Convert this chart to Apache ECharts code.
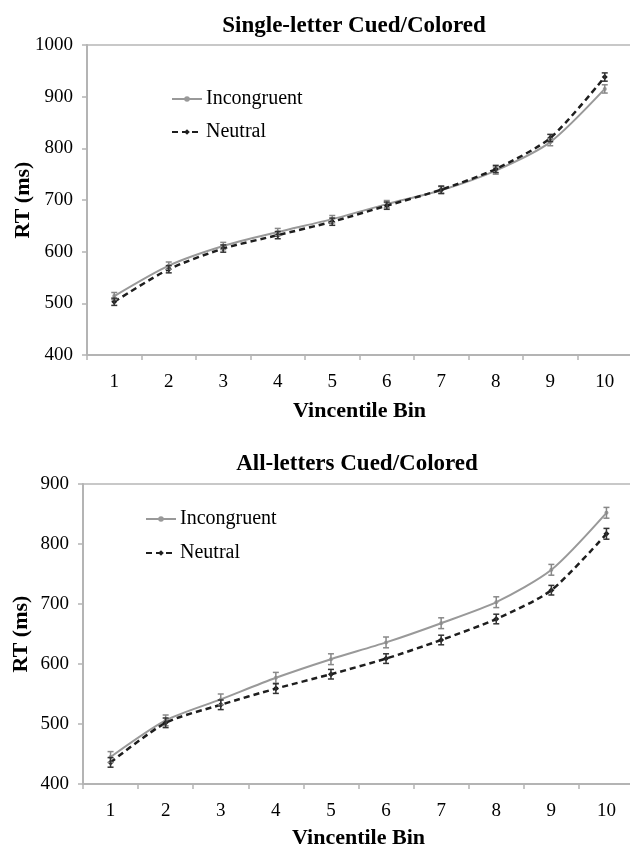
<!DOCTYPE html>
<html>
<head>
<meta charset="utf-8">
<script src="https://cdn.jsdelivr.net/npm/echarts@6/dist/echarts.min.js"></script>
<style>
  html, body { margin: 0; padding: 0; background: #fff; }
  #main { width: 630px; height: 846px; }
</style>
</head>
<body>
<div id="main"></div>
<script>
// vincentile bins
var bins = ["1", "2", "3", "4", "5", "6", "7", "8", "9", "10"];

// Single-letter Cued/Colored
var singleIncong = [514, 573, 611, 638, 663, 692, 719, 757, 812, 915];
var singleNeutral = [503, 566, 606, 632, 658, 689, 720, 760, 820, 938];
var singleIncongErr = [7, 7, 7, 7, 7, 7, 7, 7, 7, 8];
var singleNeutralErr = [7, 7, 7, 7, 7, 7, 7, 7, 7, 8];

// All-letters Cued/Colored
var allIncong = [445, 506, 541, 577, 608, 636, 668, 703, 757, 852];
var allNeutral = [436, 502, 532, 559, 583, 609, 640, 675, 723, 817];
var allIncongErr = [9, 9, 9, 9, 9, 9, 9, 9, 9, 9];
var allNeutralErr = [8, 8, 8, 8, 8, 8, 8, 8, 8, 9];

var serif = "Liberation Serif";
var axisGrey = "#b4b4b4";

function errData(vals, errs) {
  return vals.map(function (v, i) { return [i, v - errs[i], v + errs[i]]; });
}

// vertical error bar with small caps
function errorBar(color) {
  return function (params, api) {
    var lo = api.coord([api.value(0), api.value(1)]);
    var hi = api.coord([api.value(0), api.value(2)]);
    var w = 3;
    var style = { stroke: color, lineWidth: 1.5 };
    return {
      type: "group",
      children: [
        { type: "line", shape: { x1: lo[0], y1: lo[1], x2: hi[0], y2: hi[1] }, style: style },
        { type: "line", shape: { x1: lo[0] - w, y1: lo[1], x2: lo[0] + w, y2: lo[1] }, style: style },
        { type: "line", shape: { x1: hi[0] - w, y1: hi[1], x2: hi[0] + w, y2: hi[1] }, style: style }
      ]
    };
  };
}

function xAxisOpt(idx, gap) {
  return {
    type: "category",
    gridIndex: idx,
    data: bins,
    boundaryGap: true,
    name: "Vincentile Bin",
    nameLocation: "middle",
    nameGap: gap,
    nameTextStyle: { fontFamily: serif, fontWeight: "bold", fontSize: 22, color: "#000" },
    axisLine: { lineStyle: { color: axisGrey, width: 2 } },
    axisTick: { show: true, length: 5, lineStyle: { color: axisGrey, width: 1.5 } },
    axisLabel: { fontFamily: serif, fontSize: 19, color: "#000", margin: 18 },
    splitLine: { show: false }
  };
}

function yAxisOpt(idx, max, gap) {
  return {
    type: "value",
    gridIndex: idx,
    min: 400,
    max: max,
    interval: 100,
    name: "RT (ms)",
    nameLocation: "middle",
    nameRotate: 90,
    nameGap: gap,
    nameMoveOverlap: false,
    nameTextStyle: { fontFamily: serif, fontWeight: "bold", fontSize: 22, color: "#000" },
    axisLine: { show: true, lineStyle: { color: axisGrey, width: 2 } },
    axisTick: { show: true, length: 5, lineStyle: { color: axisGrey, width: 1.5 } },
    axisLabel: {
      fontFamily: serif, fontSize: 19, color: "#000", margin: 14,
      formatter: function (v) { return String(v); }
    },
    splitLine: { show: false }
  };
}

function lineSeries(name, idx, data, dashed) {
  return {
    name: name,
    type: "line",
    xAxisIndex: idx,
    yAxisIndex: idx,
    data: data,
    smooth: 0.25,
    symbol: dashed ? "diamond" : "circle",
    symbolSize: dashed ? 6 : 4,
    itemStyle: { color: dashed ? "#1e1e1e" : "#999999" },
    lineStyle: {
      color: dashed ? "#1e1e1e" : "#999999",
      width: dashed ? 2.5 : 2,
      type: dashed ? [6, 4] : "solid"
    },
    z: dashed ? 4 : 3
  };
}

function errSeries(idx, vals, errs, color) {
  return {
    type: "custom",
    xAxisIndex: idx,
    yAxisIndex: idx,
    data: errData(vals, errs),
    renderItem: errorBar(color),
    silent: true,
    z: 5
  };
}

function legendOpt(left, top, gap) {
  return {
    orient: "vertical", left: left, top: top, itemGap: gap, padding: 0,
    itemWidth: 30, itemHeight: 7,
    textStyle: { fontFamily: serif, fontSize: 20, color: "#000", padding: [0, 0, 0, -1] },
    data: ["Incongruent", "Neutral"]
  };
}

var chart = echarts.init(document.getElementById("main"));

var option = {
  backgroundColor: "#fff",
  animation: false,
  title: [
    {
      text: "Single-letter Cued/Colored",
      left: 349, top: 10, textAlign: "center",
      textStyle: { fontFamily: serif, fontWeight: "bold", fontSize: 23, color: "#000" }
    },
    {
      text: "All-letters Cued/Colored",
      left: 352, top: 448, textAlign: "center",
      textStyle: { fontFamily: serif, fontWeight: "bold", fontSize: 23, color: "#000" }
    }
  ],
  legend: [legendOpt(171, 89, 13), legendOpt(145, 509, 14)],
  grid: [
    { left: 87, top: 45, right: -2, height: 310, show: true, borderColor: "#c8c8c8", borderWidth: 2,
      outerBoundsMode: "none", containLabel: false },
    { left: 83, top: 484, right: -4, height: 300, show: true, borderColor: "#c8c8c8", borderWidth: 2,
      outerBoundsMode: "none", containLabel: false }
  ],
  xAxis: [xAxisOpt(0, 45), xAxisOpt(1, 43)],
  yAxis: [yAxisOpt(0, 1000, 53), yAxisOpt(1, 900, 51)],
  series: [
    lineSeries("Incongruent", 0, singleIncong, false),
    lineSeries("Neutral", 0, singleNeutral, true),
    errSeries(0, singleIncong, singleIncongErr, "#888888"),
    errSeries(0, singleNeutral, singleNeutralErr, "#333333"),
    lineSeries("Incongruent", 1, allIncong, false),
    lineSeries("Neutral", 1, allNeutral, true),
    errSeries(1, allIncong, allIncongErr, "#888888"),
    errSeries(1, allNeutral, allNeutralErr, "#333333")
  ]
};

chart.setOption(option);
</script>
</body>
</html>
